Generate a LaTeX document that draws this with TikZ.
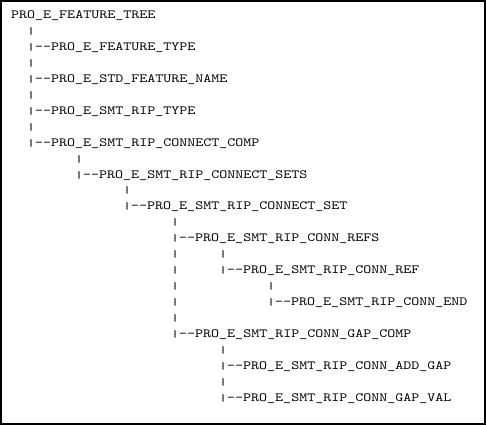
\documentclass[tikz,border=0pt]{standalone}
\usepackage{fontspec}
\usepackage{graphicx}
\newfontfamily\cour{lmmono10-regular.otf}[FakeStretch=1.22]
\newfontfamily\barfont{Liberation Mono}
\newcommand\vb{\makebox[8pt][c]{\barfont\fontsize{13.33}{15}\selectfont\raisebox{1pt}{\scalebox{1}[0.6]{|}}}}
\newcommand\dd{\mbox{-}\mbox{-}}
\tikzset{
  ln/.style={anchor=base west, inner sep=0pt, font=\cour\fontsize{12.5}{15}\selectfont},
  frame/.style={draw=black, line width=2pt}
}
\begin{document}
\begin{tikzpicture}[x=1pt,y=-1pt]
\useasboundingbox (0,0) rectangle (486,425);
\draw[frame] (1,1) rectangle (485,424);
\node[ln] (l0)  at (11,18.5)   {PRO\_E\_FEATURE\_TREE};
\node[ln] (l1)  at (27,34.45)  {\vb};
\node[ln] (l2)  at (27,50.4)   {\vb\dd PRO\_E\_FEATURE\_TYPE};
\node[ln] (l3)  at (27,66.35)  {\vb};
\node[ln] (l4)  at (27,82.3)   {\vb\dd PRO\_E\_STD\_FEATURE\_NAME};
\node[ln] (l5)  at (27,98.25)  {\vb};
\node[ln] (l6)  at (27,114.2)  {\vb\dd PRO\_E\_SMT\_RIP\_TYPE};
\node[ln] (l7)  at (27,130.15) {\vb};
\node[ln] (l8)  at (27,146.1)  {\vb\dd PRO\_E\_SMT\_RIP\_CONNECT\_COMP};
\node[ln] (l9)  at (75,162.05) {\vb};
\node[ln] (l10) at (75,178.0)  {\vb\dd PRO\_E\_SMT\_RIP\_CONNECT\_SETS};
\node[ln] (l11) at (123,193.95){\vb};
\node[ln] (l12) at (123,209.9) {\vb\dd PRO\_E\_SMT\_RIP\_CONNECT\_SET};
\node[ln] (l13) at (171,225.85){\vb};
\node[ln] (l14) at (171,241.8) {\vb\dd PRO\_E\_SMT\_RIP\_CONN\_REFS};
\node[ln] (l15a) at (171,257.75){\vb};
\node[ln] (l15b) at (219,257.75){\vb};
\node[ln] (l16a) at (171,273.7){\vb};
\node[ln] (l16b) at (219,273.7){\vb\dd PRO\_E\_SMT\_RIP\_CONN\_REF};
\node[ln] (l17a) at (171,289.65){\vb};
\node[ln] (l17b) at (267,289.65){\vb};
\node[ln] (l18a) at (171,305.6){\vb};
\node[ln] (l18b) at (267,305.6){\vb\dd PRO\_E\_SMT\_RIP\_CONN\_END};
\node[ln] (l19) at (171,321.55){\vb};
\node[ln] (l20) at (171,337.5) {\vb\dd PRO\_E\_SMT\_RIP\_CONN\_GAP\_COMP};
\node[ln] (l21) at (219,353.45){\vb};
\node[ln] (l22) at (219,369.4) {\vb\dd PRO\_E\_SMT\_RIP\_CONN\_ADD\_GAP};
\node[ln] (l23) at (219,385.35){\vb};
\node[ln] (l24) at (219,401.3) {\vb\dd PRO\_E\_SMT\_RIP\_CONN\_GAP\_VAL};
\end{tikzpicture}
\end{document}
